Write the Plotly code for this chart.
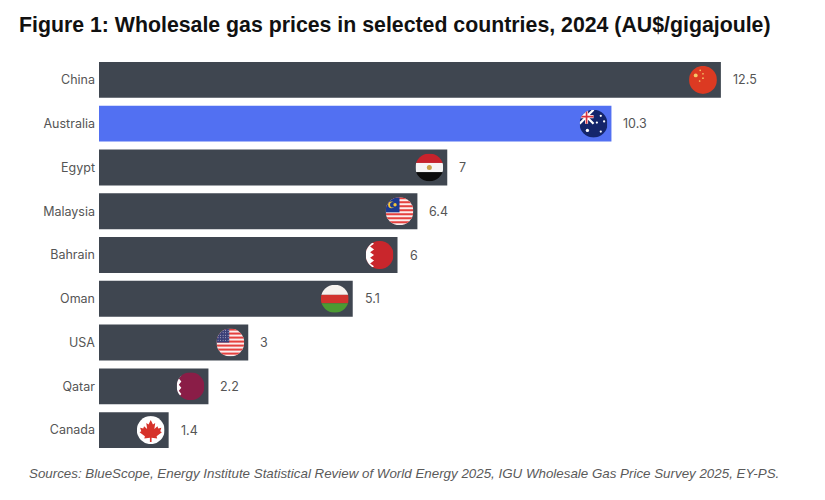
import base64

import plotly.graph_objects as go

countries = ["China", "Australia", "Egypt", "Malaysia", "Bahrain", "Oman", "USA", "Qatar", "Canada"]
prices = [12.5, 10.3, 7, 6.4, 6, 5.1, 3, 2.2, 1.4]
price_labels = ["12.5", "10.3", "7", "6.4", "6", "5.1", "3", "2.2", "1.4"]
bar_colours = ["#3f4650", "#5270f2", "#3f4650", "#3f4650", "#3f4650", "#3f4650", "#3f4650", "#3f4650", "#3f4650"]

title_text = "<b>Figure 1: Wholesale gas prices in selected countries, 2024 (AU$/gigajoule)</b>"
source_text = "<i>Sources: BlueScope, Energy Institute Statistical Review of World Energy 2025, IGU Wholesale Gas Price Survey 2025, EY-PS.</i>"

# little round flags, drawn as svg so nothing has to be downloaded
stripes = "".join(f'<rect y="{i * 14.3:.1f}" width="100" height="7.2" fill="#e5413f"/>' for i in range(7))
us_stars = "".join(f'<circle cx="{6 + c * 9}" cy="{6 + r * 9}" r="1.6" fill="#fff"/>' for r in range(5) for c in range(5))
flag_bodies = {
    "China": '<rect width="100" height="100" fill="#dc3a22"/>'
             '<circle cx="24" cy="34" r="7" fill="#f5c86a"/><circle cx="40" cy="16" r="3" fill="#f5c86a"/>'
             '<circle cx="50" cy="28" r="3" fill="#f5c86a"/><circle cx="50" cy="44" r="3" fill="#f5c86a"/>'
             '<circle cx="38" cy="54" r="3" fill="#f5c86a"/>',
    "Australia": '<rect width="100" height="100" fill="#14256b"/>'
                 '<path d="M0 0L50 50M50 0L0 50" stroke="#fff" stroke-width="8"/>'
                 '<path d="M25 0V50M0 25H50" stroke="#fff" stroke-width="11"/>'
                 '<path d="M25 0V50M0 25H50" stroke="#d8323c" stroke-width="6"/>'
                 '<circle cx="28" cy="74" r="6" fill="#fff"/><circle cx="76" cy="22" r="4" fill="#fff"/>'
                 '<circle cx="62" cy="46" r="4" fill="#fff"/><circle cx="88" cy="42" r="4" fill="#fff"/>'
                 '<circle cx="76" cy="78" r="4" fill="#fff"/>',
    "Egypt": '<rect width="100" height="34" fill="#c8222c"/><rect y="34" width="100" height="33" fill="#f6f6f6"/>'
             '<rect y="67" width="100" height="33" fill="#0c0c0c"/><circle cx="50" cy="50" r="9" fill="#c9a24a"/>',
    "Malaysia": '<rect width="100" height="100" fill="#fbeeee"/>' + stripes +
                '<rect width="50" height="54" fill="#1d3a8f"/>'
                '<circle cx="21" cy="27" r="12" fill="#f4c53a"/><circle cx="26" cy="27" r="10" fill="#1d3a8f"/>'
                '<circle cx="34" cy="27" r="6" fill="#f4c53a"/>',
    "Bahrain": '<rect width="100" height="100" fill="#c9262c"/>'
               '<path d="M0 0H16L30 10L16 20L30 30L16 40L30 50L16 60L30 70L16 80L30 90L16 100H0Z" fill="#fff"/>',
    "Oman": '<rect width="100" height="36" fill="#f6f2ee"/><rect y="36" width="100" height="30" fill="#d2332e"/>'
            '<rect y="66" width="100" height="34" fill="#4c9a32"/>',
    "USA": '<rect width="100" height="100" fill="#fbeeee"/>' + stripes +
           '<rect width="46" height="50" fill="#3b3f78"/>' + us_stars,
    "Qatar": '<rect width="100" height="100" fill="#8a1d47"/>'
             '<path d="M0 0H8L17 11L8 22L17 33L8 44L17 55L8 66L17 77L8 88L17 100H0Z" fill="#fff"/>',
    "Canada": '<rect width="100" height="100" fill="#fff"/>'
              '<path d="M50 14L58 30L66 25L63 46L74 36L77 44L88 42L84 54L90 58L71 72L73 80L53 77V92H47V77L27 80L29 72'
              'L10 58L16 54L12 42L23 44L26 36L37 46L34 25L42 30Z" fill="#d6322a"/>',
}


def flag_uri(body):
    svg = (
        '<svg xmlns="http://www.w3.org/2000/svg" viewBox="0 0 100 100" width="200" height="200">'
        '<defs><clipPath id="c"><circle cx="50" cy="50" r="50"/></clipPath></defs>'
        f'<g clip-path="url(#c)">{body}</g></svg>'
    )
    return "data:image/svg+xml;base64," + base64.b64encode(svg.encode()).decode()


positions = list(range(len(countries)))

fig = go.Figure(
    go.Bar(
        x=prices,
        y=positions,
        orientation="h",
        width=0.82,
        marker=dict(color=bar_colours, line=dict(width=0)),
        hoverinfo="skip",
    )
)

for pos, country, price, label in zip(positions, countries, prices, price_labels):
    fig.add_layout_image(
        source=flag_uri(flag_bodies[country]),
        xref="x", yref="y",
        x=price - 0.36, y=pos,
        sizex=0.56, sizey=0.64,
        xanchor="center", yanchor="middle",
        sizing="stretch",
        layer="above",
    )
    fig.add_annotation(
        x=price, y=pos, text=label,
        xanchor="left", xshift=10,
        showarrow=False,
        font=dict(family="Inter", size=12.5, color="#555555"),
    )

fig.add_annotation(
    xref="paper", yref="paper",
    x=-0.103, y=-0.055,
    xanchor="left", yanchor="middle",
    text=source_text,
    showarrow=False,
    font=dict(family="Liberation Sans", size=13.35, color="#5a5a5a"),
)

# the page body adds 8px on the left and top, so margins are 8 less than the picture
fig.update_layout(
    width=825,
    height=500,
    margin=dict(l=91, r=33, t=50, b=56),
    paper_bgcolor="white",
    plot_bgcolor="white",
    showlegend=False,
    title=dict(
        text=title_text,
        x=11 / 825, xanchor="left",
        y=1 - 17 / 500, yanchor="middle",
        font=dict(family="Liberation Sans", size=21.3, color="#111111"),
    ),
)
fig.update_xaxes(range=[0, 14.09], visible=False)
fig.update_yaxes(
    range=[8.5, -0.5],
    tickvals=positions,
    ticktext=countries,
    showgrid=False,
    zeroline=False,
    showline=False,
    ticks="",
    ticklabelstandoff=3,
    tickfont=dict(family="Inter", size=12.5, color="#555555"),
)

fig.write_html("out.html")
